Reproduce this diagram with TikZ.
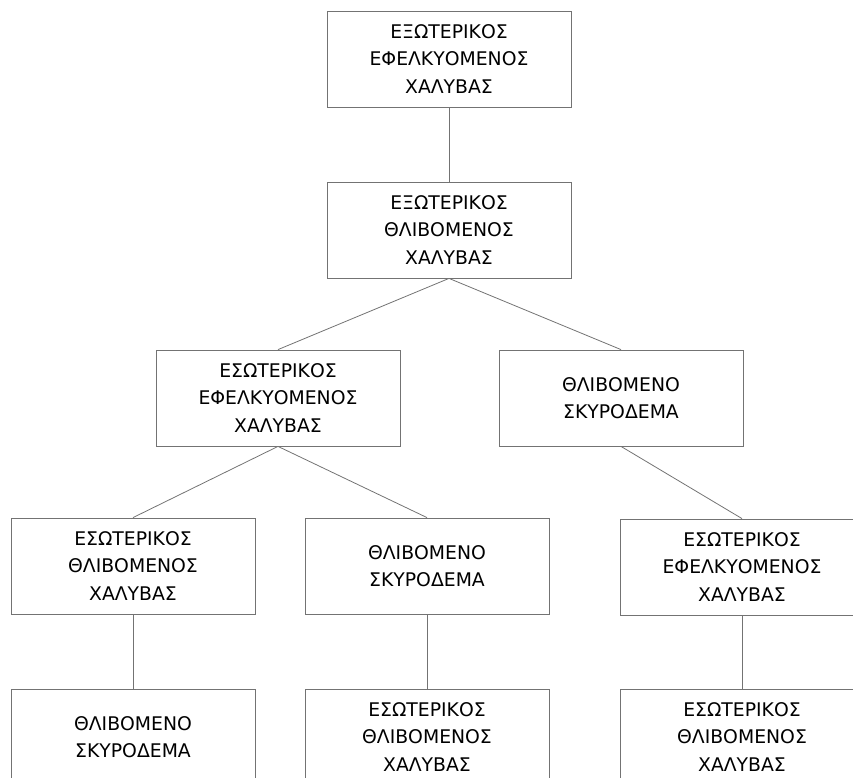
\documentclass[tikz,border=0pt]{standalone}
\usepackage{fontspec}
\setmainfont{DejaVu Sans}
\usetikzlibrary{positioning}

\begin{document}
\begin{tikzpicture}[x=1pt, y=-1pt,
  box/.style={rectangle, draw=black!55, line width=0.8pt, minimum width=244pt,
              minimum height=96pt, align=center, inner sep=0pt,
              font=\fontsize{18.8}{27.5}\selectfont},
  link/.style={draw=black!55, line width=0.8pt}]
\useasboundingbox (0,0) rectangle (853,778);
\clip (0,0) rectangle (853,778);

  % top of the tree
  \node[box] (extTen) at (449,59) {ΕΞΩΤΕΡΙΚΟΣ\\ΕΦΕΛΚΥΟΜΕΝΟΣ\\ΧΑΛΥΒΑΣ};
  \node[box] (extComp) at (449,230) {ΕΞΩΤΕΡΙΚΟΣ\\ΘΛΙΒΟΜΕΝΟΣ\\ΧΑΛΥΒΑΣ};

  % third row
  \node[box] (intTen) at (278,398) {ΕΣΩΤΕΡΙΚΟΣ\\ΕΦΕΛΚΥΟΜΕΝΟΣ\\ΧΑΛΥΒΑΣ};
  \node[box] (concTop) at (621,398) {ΘΛΙΒΟΜΕΝΟ\\ΣΚΥΡΟΔΕΜΑ};

  % fourth row
  \node[box] (intCompL) at (133,566) {ΕΣΩΤΕΡΙΚΟΣ\\ΘΛΙΒΟΜΕΝΟΣ\\ΧΑΛΥΒΑΣ};
  \node[box] (concMid) at (427,566) {ΘΛΙΒΟΜΕΝΟ\\ΣΚΥΡΟΔΕΜΑ};
  \node[box] (intTenR) at (742,567) {ΕΣΩΤΕΡΙΚΟΣ\\ΕΦΕΛΚΥΟΜΕΝΟΣ\\ΧΑΛΥΒΑΣ};

  % bottom row (cut by the page)
  \node[box] (concLow) at (133,737) {ΘΛΙΒΟΜΕΝΟ\\ΣΚΥΡΟΔΕΜΑ};
  \node[box] (intCompM) at (427,737) {ΕΣΩΤΕΡΙΚΟΣ\\ΘΛΙΒΟΜΕΝΟΣ\\ΧΑΛΥΒΑΣ};
  \node[box] (intCompR) at (742,737) {ΕΣΩΤΕΡΙΚΟΣ\\ΘΛΙΒΟΜΕΝΟΣ\\ΧΑΛΥΒΑΣ};

  % links
  \draw[link] (extTen.south) -- (extComp.north);
  \draw[link] (extComp.south) -- (intTen.north);
  \draw[link] (extComp.south) -- (concTop.north);
  \draw[link] (intTen.south) -- (intCompL.north);
  \draw[link] (intTen.south) -- (concMid.north);
  \draw[link] (concTop.south) -- (intTenR.north);
  \draw[link] (intCompL.south) -- (concLow.north);
  \draw[link] (concMid.south) -- (intCompM.north);
  \draw[link] (intTenR.south) -- (intCompR.north);
\end{tikzpicture}
\end{document}
